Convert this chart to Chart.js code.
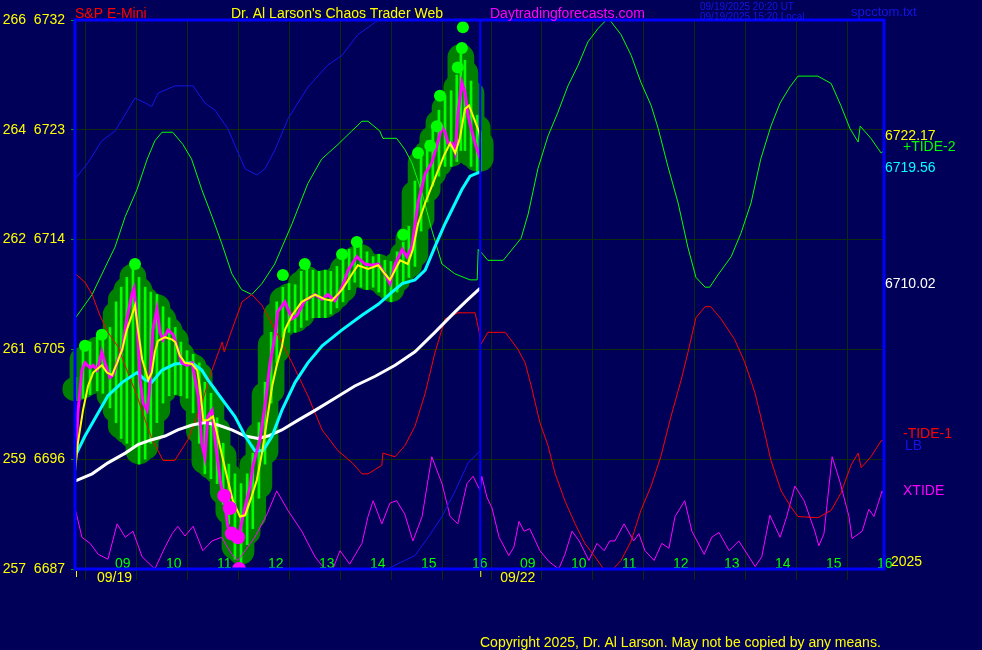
<!DOCTYPE html>
<html>
<head>
<meta charset="utf-8">
<script src="https://cdn.jsdelivr.net/npm/chart.js@4.4.0/dist/chart.umd.min.js"></script>
<style>
  html, body { margin: 0; padding: 0; background: #000058; }
  #chart { display: block; }
</style>
</head>
<body>
<canvas id="chart" width="982" height="650"></canvas>
<script>
// second session hours are drawn after the first one on one time line
const DAY2_SHIFT = 7.94;
const X_MIN = 8.294, X_MAX = 24.157;

const priceTicks = [6687, 6696, 6705, 6714, 6723, 6732];
const spyTicks = ['257', '259', '261', '262', '264', '266'];
const sessionHours = [9, 10, 11, 12, 13, 14, 15, 16];

// price (magenta) 09/19
const priceT = [8.31,8.35,8.43,8.49,8.59,8.65,8.73,8.82,8.88,8.98,9.04,9.14,9.22,9.31,9.41,9.45,9.51,9.57,9.63,9.71,9.75,9.82,9.9,9.96,10.02,10.12,10.22,10.29,10.39,10.49,10.59,10.65,10.71,10.78,10.84,10.9,10.98,11.04,11.14,11.24,11.29,11.39,11.49,11.57,11.63,11.73,11.78,11.92,12.02,12.12,12.22,12.27,12.41,12.55,12.65,12.8,13.0,13.14,13.25,13.39,13.53,13.65,13.82,13.98,14.12,14.24,14.37,14.47,14.57,14.71,14.8,14.9,15.02,15.16,15.29,15.39,15.49,15.55,15.61,15.69,15.75,15.8,15.88,15.94,16.0,16.08,16.14,16.24];
const priceV = [6696.1,6699.8,6703.3,6703.9,6703.5,6703.7,6703.3,6704.8,6703.9,6702.7,6702.9,6704.2,6705.0,6707.5,6709.5,6710.0,6707.5,6702.5,6700.6,6700.0,6701.4,6706.6,6708.3,6706.4,6705.8,6706.6,6706.2,6705.3,6703.9,6703.7,6703.9,6702.5,6701.2,6697.3,6696.2,6699.5,6700.0,6697.6,6694.3,6692.1,6690.5,6689.6,6689.3,6691.0,6692.1,6693.8,6695.4,6697.6,6700.4,6703.9,6706.2,6708.1,6708.9,6707.5,6707.8,6709.0,6709.5,6709.1,6709.5,6709.0,6710.1,6711.5,6712.6,6712.0,6711.9,6712.0,6711.2,6710.4,6712.0,6713.2,6712.6,6713.4,6717.0,6719.4,6720.3,6721.7,6723.3,6722.8,6721.9,6721.9,6721.1,6724.2,6726.9,6726.1,6724.2,6722.8,6721.9,6720.6];

// bar ranges (green blobs)
const barT = [8.31,8.45,8.59,8.73,8.84,8.98,9.1,9.2,9.31,9.43,9.55,9.67,9.78,9.9,10.02,10.14,10.26,10.37,10.49,10.61,10.73,10.84,10.96,11.08,11.2,11.31,11.43,11.55,11.67,11.78,11.9,12.02,12.14,12.25,12.37,12.49,12.61,12.73,12.84,12.96,13.08,13.2,13.31,13.43,13.55,13.67,13.78,13.9,14.02,14.14,14.25,14.37,14.49,14.61,14.73,14.84,14.96,15.08,15.2,15.31,15.43,15.55,15.67,15.78,15.86,15.94,16.06,16.18,16.24];
const barHi = [6702.7,6705.2,6705.6,6706.0,6706.2,6706.8,6708.9,6710.1,6710.9,6712.0,6710.9,6710.1,6709.7,6709.5,6708.5,6707.6,6706.8,6705.6,6704.9,6704.6,6703.9,6702.3,6701.4,6699.4,6697.3,6695.6,6694.8,6694.0,6694.8,6696.5,6699.0,6702.3,6706.4,6708.9,6710.1,6710.4,6710.3,6711.4,6711.8,6711.5,6711.4,6711.5,6711.4,6711.8,6712.6,6713.2,6713.4,6713.6,6713.0,6712.6,6712.8,6712.3,6712.2,6713.0,6713.8,6715.1,6718.8,6721.3,6722.1,6723.3,6724.6,6725.8,6726.2,6727.5,6730.0,6728.7,6727.0,6724.2,6722.9];
const barLo = [6700.8,6701.0,6701.3,6701.6,6701.4,6700.2,6699.0,6697.7,6697.3,6696.9,6695.6,6696.0,6697.3,6699.0,6700.6,6701.2,6701.3,6701.2,6701.0,6699.8,6697.3,6694.8,6694.4,6694.0,6692.3,6690.7,6687.8,6687.4,6689.0,6690.3,6692.8,6695.6,6700.6,6703.9,6706.0,6706.4,6706.4,6706.8,6707.4,6707.6,6707.6,6707.6,6707.9,6708.4,6708.9,6709.9,6710.5,6710.1,6709.9,6710.1,6709.7,6709.3,6708.9,6709.7,6710.5,6710.9,6711.8,6714.7,6717.1,6718.4,6719.2,6720.0,6720.0,6720.4,6721.3,6721.3,6720.0,6719.6,6719.6];

// swing dots
const highDotT = [8.49,8.82,9.47,12.37,12.8,13.53,13.82,14.73,15.02,15.26,15.39,15.45,15.8,15.88,15.9];
const highDotV = [6705.3,6706.2,6712.0,6711.1,6712.0,6712.8,6713.8,6714.4,6721.1,6721.7,6723.3,6725.8,6728.1,6729.7,6731.4];
const lowDotT = [11.22,11.33,11.37,11.49,11.51];
const lowDotV = [6693.0,6692.0,6689.9,6689.6,6687.0];

// yellow average
const yellowT = [8.29,8.35,8.45,8.55,8.65,8.82,8.92,9.02,9.12,9.22,9.31,9.41,9.47,9.53,9.61,9.73,9.8,9.86,9.92,10.06,10.2,10.26,10.35,10.45,10.59,10.69,10.75,10.81,10.9,11.0,11.08,11.2,11.29,11.39,11.53,11.63,11.73,11.86,11.96,12.06,12.16,12.25,12.35,12.41,12.55,12.74,13.0,13.2,13.33,13.53,13.73,13.84,14.04,14.24,14.37,14.47,14.67,14.82,14.92,15.02,15.16,15.35,15.53,15.65,15.75,15.84,15.94,16.02,16.12,16.22,16.24];
const yellowV = [6694.8,6697.3,6700.0,6702.0,6703.1,6703.7,6703.1,6702.9,6703.9,6705.0,6706.6,6707.8,6708.6,6706.6,6704.2,6702.5,6703.1,6704.8,6705.7,6706.0,6705.8,6705.6,6704.5,6703.9,6703.8,6703.3,6701.7,6699.2,6699.2,6699.5,6698.1,6695.9,6694.3,6692.6,6691.3,6691.4,6692.6,6694.3,6696.5,6699.2,6702.0,6703.7,6705.2,6706.6,6707.8,6708.9,6709.5,6709.1,6709.0,6709.9,6711.2,6711.9,6711.6,6711.9,6711.2,6710.7,6712.3,6712.0,6713.2,6715.3,6717.0,6719.0,6720.9,6721.9,6721.1,6722.3,6724.7,6725.0,6723.9,6722.8,6722.17];

// cyan average
const cyanT = [8.29,8.49,8.75,8.94,9.22,9.51,9.67,9.8,10.0,10.25,10.59,10.78,10.9,11.18,11.43,11.63,11.82,11.98,12.16,12.35,12.61,12.86,13.14,13.53,13.92,14.24,14.51,14.71,14.96,15.16,15.35,15.55,15.75,15.88,16.04,16.24];
const cyanV = [6696.2,6697.9,6699.8,6701.2,6702.3,6703.1,6702.5,6702.3,6703.3,6703.8,6703.9,6703.3,6702.5,6700.9,6699.5,6697.9,6696.7,6696.7,6697.9,6700.0,6702.3,6703.9,6705.3,6706.6,6707.8,6708.7,6709.7,6710.4,6710.7,6711.5,6713.4,6715.3,6717.0,6718.1,6719.2,6719.56];

// white average
const whiteT = [8.29,8.63,8.94,9.28,9.53,9.8,10.06,10.31,10.59,10.84,11.1,11.37,11.63,11.88,12.08,12.35,12.67,13.0,13.39,13.78,14.18,14.57,14.96,15.35,15.75,16.0,16.24];
const whiteV = [6694.2,6694.8,6695.7,6696.5,6697.2,6697.6,6697.9,6698.4,6698.8,6699.0,6698.8,6698.4,6697.9,6697.7,6697.9,6698.4,6699.2,6700.0,6701.0,6702.0,6702.8,6703.7,6704.8,6706.4,6708.1,6709.1,6710.02];

// blue upper band and LB
const bandT = [8.29,8.55,8.82,9.08,9.27,9.47,9.67,9.8,9.92,10.25,10.61,10.84,11.04,11.29,11.63,11.86,12.02,12.22,12.47,12.86,13.25,13.53,13.84,14.18,14.37,14.57];
const bandV = [6718.95,6720.3,6722.1,6722.9,6724.2,6725.6,6725.2,6724.9,6726.0,6726.6,6726.6,6725.2,6724.6,6723.1,6719.8,6719.3,6719.8,6721.4,6723.9,6726.5,6728.3,6729.1,6730.8,6731.8,6732.5,6733.5];
const lbT = [14.18,14.37,14.76,14.96,15.22,15.49,15.75,16.0,16.24];
const lbV = [6686.3,6686.9,6687.7,6688.1,6689.6,6691.3,6693.4,6695.7,6696.7];

// +TIDE-2 (green)
const tide2T1 = [8.29,8.63,8.94,9.08,9.28,9.51,9.71,9.86,10.0,10.21,10.41,10.58,10.78,10.98,11.17,11.37,11.56,11.76,11.96,12.21,12.55,12.86,13.13,13.45,13.72,13.92,14.04,14.27,14.33,14.6,14.76,14.9,15.1,15.29,15.49,15.74,16.04,16.18,16.2];
const tide2V1 = [6707.5,6709.5,6712.2,6713.4,6715.9,6718.1,6720.6,6722.1,6722.8,6722.8,6721.8,6720.6,6718.1,6715.9,6713.7,6711.2,6709.9,6709.5,6710.4,6712.0,6715.3,6718.6,6720.6,6721.8,6722.9,6723.7,6723.7,6722.9,6722.3,6722.3,6721.4,6720.3,6717.8,6714.8,6712.0,6711.2,6710.7,6710.7,6713.2];
const tide2T2 = [8.35,8.45,8.75,9.1,9.24,9.43,9.63,9.82,10.02,10.22,10.41,10.61,10.77,10.84,11.06,11.26,11.45,11.65,11.79,11.98,12.18,12.37,12.53,12.71,12.8,12.96,13.22,13.41,13.61,13.8,14.0,14.18,14.37,14.53,14.92,15.18,15.37,15.55,15.71,15.75,15.96,16.16,16.22];
const tide2V2 = [6712.8,6712.3,6712.3,6714.1,6716.1,6719.8,6722.5,6724.4,6726.6,6728.3,6730.2,6731.3,6732.0,6732.0,6730.8,6729.1,6726.9,6725.0,6723.1,6720.0,6717.0,6713.4,6710.9,6710.1,6710.1,6711.1,6712.6,6714.5,6717.0,6720.6,6723.3,6725.2,6726.5,6727.4,6727.4,6726.8,6725.0,6723.1,6722.0,6723.3,6722.3,6721.1,6721.3];

// -TIDE-1 (red)
const tide1T1 = [8.3,8.49,8.63,8.78,8.94,9.14,9.33,9.51,9.67,9.8,10.02,10.25,10.51,10.78,10.98,11.18,11.22,11.37,11.57,11.76,11.96,12.22,12.55,12.86,13.14,13.45,13.73,13.92,14.04,14.31,14.33,14.57,14.76,14.96,15.16,15.35,15.55,15.8,16.14,16.22,16.25];
const tide1V1 = [6711.2,6710.5,6709.5,6707.8,6706.4,6705.2,6703.1,6701.2,6699.2,6697.7,6695.9,6695.9,6697.6,6700.6,6703.3,6705.6,6704.8,6706.6,6708.9,6709.5,6708.6,6706.6,6703.9,6701.2,6698.4,6696.7,6695.7,6694.8,6694.8,6695.5,6696.5,6696.2,6697.1,6698.7,6701.4,6704.7,6707.5,6708.0,6708.0,6706.4,6705.4];
const tide1T2 = [8.45,8.79,9.04,9.18,9.3,9.47,9.63,9.77,9.96,10.16,10.35,10.55,10.77,10.86,11.06,11.26,11.45,11.65,11.84,12.04,12.24,12.37,12.53,12.71,12.82,13.02,13.29,13.49,13.69,13.88,14.0,14.2,14.39,14.53,14.92,15.18,15.37,15.57,15.71,15.77,15.96,16.16,16.22];
const tide1V2 = [6706.4,6706.4,6705.0,6703.9,6702.0,6699.0,6697.1,6694.8,6692.6,6690.7,6689.1,6688.0,6686.7,6686.8,6687.7,6689.3,6691.8,6693.8,6696.2,6699.5,6702.5,6704.7,6707.6,6708.5,6708.5,6707.5,6705.8,6703.9,6701.4,6698.1,6695.9,6693.4,6692.1,6691.3,6691.2,6691.8,6693.2,6695.5,6696.5,6695.3,6696.2,6697.5,6697.6];

// XTIDE (thin magenta)
const xtideT1 = [8.29,8.43,8.59,8.75,8.94,9.12,9.28,9.43,9.61,9.86,10.06,10.2,10.31,10.45,10.61,10.8,10.98,11.17,11.37,11.49,11.63,11.82,12.06,12.25,12.47,12.74,13.0,13.23,13.35,13.49,13.68,13.92,14.04,14.14,14.31,14.47,14.6,14.76,14.92,15.1,15.29,15.49,15.65,15.8,15.98,16.1,16.24];
const xtideV1 = [6692.1,6689.6,6689.1,6688.2,6687.8,6690.7,6689.6,6690.1,6688.0,6687.0,6688.8,6689.9,6690.5,6689.7,6690.5,6688.5,6689.3,6689.6,6688.2,6687.7,6688.5,6689.6,6691.5,6693.4,6691.8,6690.1,6688.0,6686.8,6687.0,6688.5,6687.4,6689.1,6691.3,6692.6,6690.7,6692.4,6692.6,6691.5,6689.3,6691.3,6696.2,6694.0,6691.3,6690.7,6694.0,6694.6,6693.4];
const xtideT2 = [8.33,8.43,8.53,8.67,8.86,8.96,9.06,9.16,9.27,9.47,9.65,9.84,9.96,10.1,10.24,10.43,10.59,10.73,10.84,10.94,11.12,11.31,11.41,11.53,11.71,11.86,12.0,12.12,12.31,12.45,12.69,12.84,12.98,13.18,13.37,13.57,13.69,13.82,13.98,14.18,14.31,14.47,14.65,14.86,14.94,15.04,15.2,15.35,15.53,15.59,15.79,15.92,16.02,16.18,16.22];
const xtideV2 = [6694.6,6692.9,6692.0,6689.6,6688.1,6688.8,6690.9,6690.1,6690.3,6688.5,6687.6,6687.0,6688.2,6690.1,6689.3,6687.7,6689.1,6688.5,6689.3,6689.3,6690.7,6689.3,6689.9,6688.5,6687.7,6689.1,6688.7,6691.3,6692.6,6690.1,6688.2,6689.6,6690.0,6688.5,6689.3,6688.0,6687.2,6688.0,6691.4,6689.6,6691.3,6693.8,6692.6,6690.1,6688.9,6689.9,6696.2,6694.2,6691.3,6689.5,6690.1,6691.9,6691.3,6693.4,6693.0];

const BG = '#000058';
const GRID = '#0a2c0a';
const FONT = '"Liberation Sans", Arial, sans-serif';

function pts(times, values, shift) {
    return times.map((t, i) => ({ x: t + (shift || 0), y: values[i] }));
}

function lineSet(data, color, width, order) {
    return {
        type: 'scatter',
        data: data,
        showLine: true,
        borderColor: color,
        borderWidth: width,
        pointRadius: 0,
        tension: 0,
        order: order
    };
}

const tide2Data = pts(tide2T1, tide2V1).concat(pts(tide2T2, tide2V2, DAY2_SHIFT));
const tide1Data = pts(tide1T1, tide1V1).concat(pts(tide1T2, tide1V2, DAY2_SHIFT));
const xtideData = pts(xtideT1, xtideV1).concat(pts(xtideT2, xtideV2, DAY2_SHIFT));

const last = arr => arr[arr.length - 1];

const textPlugin = {
    id: 'chaosText',
    beforeDraw(chart) {
        const ctx = chart.ctx;
        ctx.save();
        ctx.fillStyle = BG;
        ctx.fillRect(0, 0, chart.width, chart.height);
        ctx.restore();
    },
    afterDatasetsDraw(chart) {
        const ctx = chart.ctx;
        const xs = chart.scales.x, ys = chart.scales.y;
        const a = chart.chartArea;
        ctx.save();

        // hour labels inside the plot
        ctx.font = '14px ' + FONT;
        ctx.textBaseline = 'alphabetic';
        ctx.textAlign = 'left';
        ctx.fillStyle = '#00ff00';
        sessionHours.forEach(h => {
            const lbl = (h < 10 ? '0' : '') + h;
            ctx.fillText(lbl, xs.getPixelForValue(h) + 4, a.bottom - 1);
            ctx.fillText(lbl, xs.getPixelForValue(h + DAY2_SHIFT) + 4, a.bottom - 1);
        });

        // blue frame and session divider
        const divX = xs.getPixelForValue(16.24);
        ctx.strokeStyle = '#0000ff';
        ctx.lineWidth = 3;
        ctx.strokeRect(a.left, a.top, a.right - a.left, a.bottom - a.top);
        ctx.lineWidth = 2;
        ctx.beginPath();
        ctx.moveTo(divX, a.top);
        ctx.lineTo(divX, a.bottom);
        ctx.stroke();

        // small yellow date ticks
        ctx.strokeStyle = '#ffff00';
        ctx.lineWidth = 1;
        [a.left + 1.5, divX + 0.5].forEach(x => {
            ctx.beginPath();
            ctx.moveTo(x, a.bottom + 2);
            ctx.lineTo(x, a.bottom + 8);
            ctx.stroke();
        });

        ctx.textBaseline = 'middle';
        ctx.fillStyle = '#ffff00';
        ctx.fillText('09/19', a.left + 22, a.bottom + 9);
        ctx.fillText('09/22', divX + 20, a.bottom + 9);
        ctx.fillText('2025', a.right + 7, a.bottom - 7);
        ctx.fillText('Copyright 2025, Dr. Al Larson. May not be copied by any means.', 480, 643);

        // header
        ctx.textBaseline = 'alphabetic';
        ctx.fillStyle = '#ff0000';
        ctx.fillText('S&P E-Mini', 75, 18);
        ctx.fillStyle = '#ffff00';
        ctx.fillText("Dr. Al Larson's Chaos Trader Web", 231, 18);
        ctx.fillStyle = '#ff00ff';
        ctx.fillText('Daytradingforecasts.com', 490, 18);
        ctx.fillStyle = '#1414e6';
        ctx.font = '13px ' + FONT;
        ctx.fillText('spcctom.txt', 851, 16);
        ctx.font = '10px ' + FONT;
        ctx.fillText('09/19/2025 20:20 UT', 700, 10);
        ctx.fillText('09/19/2025 15:20 Local', 700, 20);

        // right side end labels
        ctx.font = '14px ' + FONT;
        ctx.textBaseline = 'middle';
        const rx = a.right + 1;
        const endVals = [
            [last(yellowV), '#ffff00'],
            [last(cyanV), '#00ffff'],
            [last(whiteV), '#ffffff']
        ];
        endVals.forEach(([v, c]) => {
            ctx.fillStyle = c;
            ctx.fillText(v.toFixed(2), rx, ys.getPixelForValue(v) - 4);
        });
        const names = [
            ['+TIDE-2', last(tide2V2), '#00ff00', 19, -3],
            ['-TIDE-1', last(tide1V2), '#ff0000', 19, -6],
            ['LB', last(lbV), '#1414e6', 21, -5],
            ['XTIDE', last(xtideV2), '#ff00ff', 19, -5]
        ];
        names.forEach(([t, v, c, dx, dy]) => {
            ctx.fillStyle = c;
            ctx.fillText(t, a.right + dx, ys.getPixelForValue(v) + dy);
        });
        ctx.restore();
    }
};

const ctx = document.getElementById('chart').getContext('2d');
const chart = new Chart(ctx, {
    type: 'scatter',
    data: {
        datasets: [
            {
                type: 'scatter', data: pts(lowDotT, lowDotV),
                pointRadius: 7, pointBackgroundColor: '#ff00ff', pointBorderWidth: 0, order: 0
            },
            {
                type: 'scatter', data: pts(highDotT, highDotV),
                pointRadius: 6, pointBackgroundColor: '#00ff00', pointBorderWidth: 0, order: 1
            },
            lineSet(pts(yellowT, yellowV), '#ffff00', 2, 2),
            lineSet(pts(priceT, priceV), '#ff00ff', 3, 3),
            lineSet(pts(cyanT, cyanV), '#00ffff', 3, 4),
            lineSet(pts(whiteT, whiteV), '#ffffff', 3, 5),
            lineSet(tide1Data, '#ff0000', 1, 6),
            lineSet(tide2Data, '#00ff00', 1, 7),
            lineSet(pts(bandT, bandV), '#1414e6', 1, 8),
            lineSet(pts(lbT, lbV), '#1414e6', 1, 9),
            lineSet(xtideData, '#ff00ff', 1, 10),
            {
                type: 'bar',
                data: barT.map((t, i) => ({ x: t, y: [barLo[i], barHi[i]] })),
                backgroundColor: '#00ff00',
                barThickness: 2,
                grouped: false,
                order: 11
            },
            {
                type: 'bar',
                data: barT.map((t, i) => ({ x: t, y: [barLo[i], barHi[i]] })),
                backgroundColor: '#008000',
                barThickness: 26,
                borderRadius: 13,
                borderSkipped: false,
                grouped: false,
                clip: false,
                order: 12
            }
        ]
    },
    options: {
        responsive: false,
        animation: false,
        devicePixelRatio: 1,
        layout: { padding: { left: 0, top: 20, right: 98, bottom: 0 } },
        plugins: { legend: { display: false }, tooltip: { enabled: false } },
        scales: {
            x: {
                type: 'linear',
                min: X_MIN,
                max: X_MAX,
                offset: false,
                afterBuildTicks: s => {
                    s.ticks = sessionHours.map(h => ({ value: h }))
                        .concat(sessionHours.map(h => ({ value: h + DAY2_SHIFT })));
                },
                afterFit: s => { s.height = 81; s.paddingLeft = 0; s.paddingRight = 0; },
                ticks: { display: false },
                grid: { color: GRID, tickColor: GRID, tickLength: 11, lineWidth: 1 },
                border: { display: false }
            },
            y: {
                type: 'linear',
                min: 6687,
                max: 6732,
                afterBuildTicks: s => { s.ticks = priceTicks.map(v => ({ value: v })); },
                afterFit: s => { s.width = 75; s.paddingTop = 0; s.paddingBottom = 0; },
                ticks: {
                    color: '#ffff00',
                    font: { size: 14, family: FONT },
                    padding: 6,
                    callback: v => {
                        const i = priceTicks.indexOf(v);
                        return i >= 0 ? spyTicks[i] + '  ' + v : '';
                    }
                },
                grid: { color: GRID, tickColor: '#00a000', tickLength: 4, lineWidth: 1 },
                border: { display: false }
            }
        }
    },
    plugins: [textPlugin]
});
</script>
</body>
</html>
